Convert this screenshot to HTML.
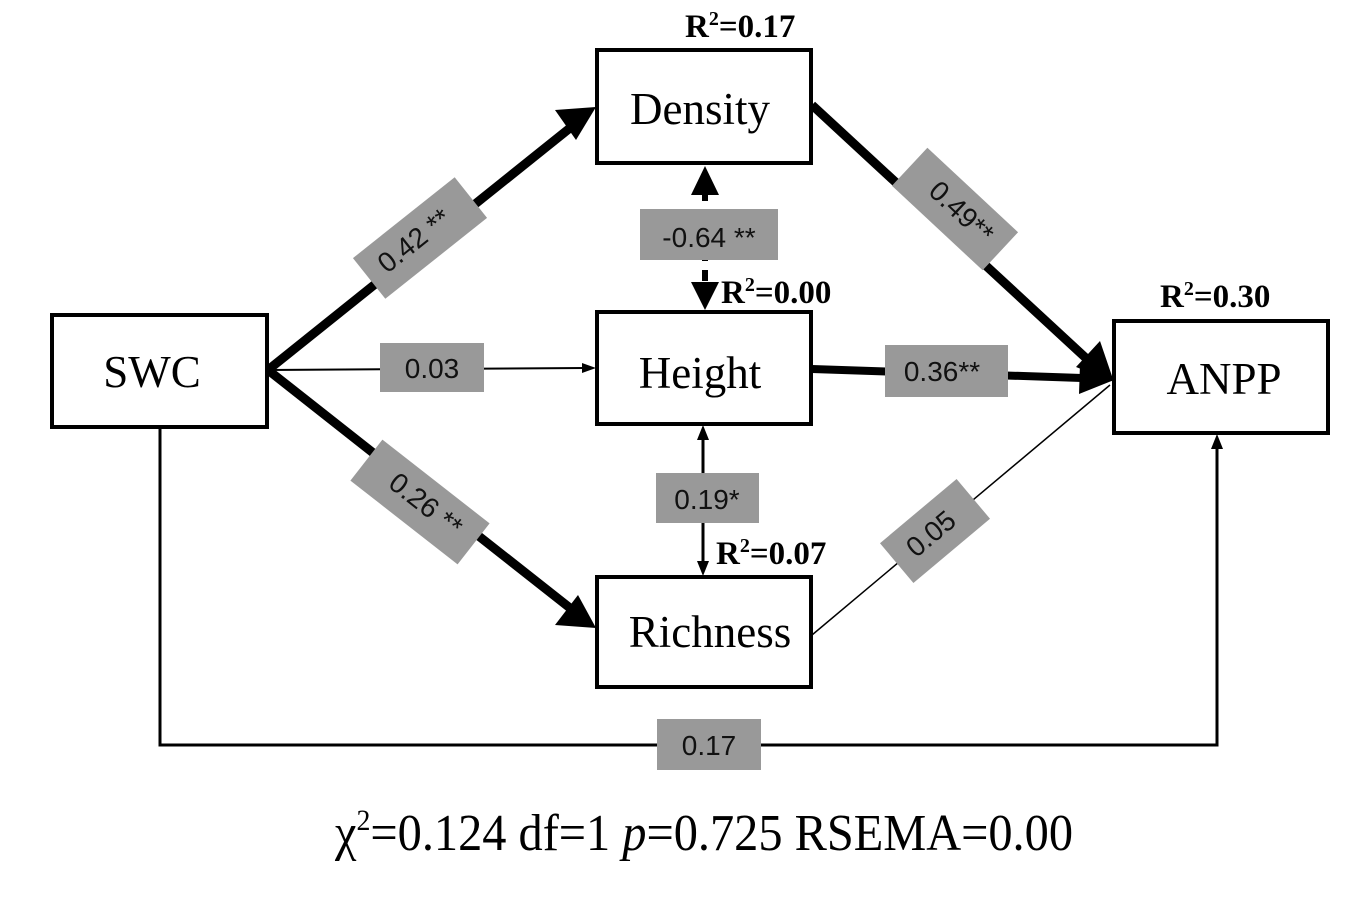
<!DOCTYPE html>
<html><head><meta charset="utf-8"><style>
html,body{margin:0;padding:0;background:#fff;}
svg{display:block;}
.s{font-family:"Liberation Serif",serif;}
.l{font-family:"Liberation Sans",sans-serif;font-size:28px;fill:#111;}
</style></head><body>
<svg width="1346" height="903" viewBox="0 0 1346 903">
<g fill="none" stroke="#000">
  <line x1="268" y1="370" x2="570" y2="128" stroke-width="9"/>
  <line x1="268" y1="370" x2="570" y2="608" stroke-width="9"/>
  <line x1="268" y1="370" x2="585" y2="368" stroke-width="2"/>
  <line x1="812" y1="105" x2="1088" y2="360" stroke-width="9"/>
  <line x1="812" y1="369" x2="1082" y2="378" stroke-width="8"/>
  <line x1="812" y1="635" x2="1110" y2="385" stroke-width="1.5"/>
  <line x1="705" y1="190" x2="705" y2="285" stroke-width="6" stroke-dasharray="11,9"/>
  <line x1="703" y1="436" x2="703" y2="565" stroke-width="3"/>
  <polyline points="160,428 160,745 1217,745 1217,446" stroke-width="3"/>
</g>
<g fill="#000">
  <polygon points="596,107 555,110 576,140"/>
  <polygon points="596,628 555,625 578,595"/>
  <polygon points="596,368 582,363 582,373"/>
  <polygon points="1114,382 1100,341 1076,367"/>
  <polygon points="1114,380 1080,364 1079,394"/>
  <polygon points="705,166 691,195 719,195"/>
  <polygon points="705,310 691,282 719,282"/>
  <polygon points="703,425 697,440 709,440"/>
  <polygon points="703,576 697,561 709,561"/>
  <polygon points="1217,434 1211,449 1223,449"/>
</g>
<g fill="#fff" stroke="#000" stroke-width="4">
  <rect x="52" y="315" width="215" height="112"/>
  <rect x="597" y="50" width="214" height="113"/>
  <rect x="597" y="312" width="214" height="112"/>
  <rect x="597" y="577" width="214" height="110"/>
  <rect x="1114" y="321" width="214" height="112"/>
</g>
<g class="s" font-size="45" text-anchor="middle" fill="#000">
  <text x="152" y="387">SWC</text>
  <text x="700" y="124">Density</text>
  <text x="700" y="388">Height</text>
  <text x="710" y="647">Richness</text>
  <text x="1224" y="394">ANPP</text>
</g>
<g class="s" font-size="33" font-weight="bold" fill="#000">
  <text x="685" y="37">R<tspan font-size="20" dy="-12">2</tspan><tspan dy="12">=0.17</tspan></text>
  <text x="721" y="303">R<tspan font-size="20" dy="-12">2</tspan><tspan dy="12">=0.00</tspan></text>
  <text x="716" y="564">R<tspan font-size="20" dy="-12">2</tspan><tspan dy="12">=0.07</tspan></text>
  <text x="1160" y="307">R<tspan font-size="20" dy="-12">2</tspan><tspan dy="12">=0.30</tspan></text>
</g>
<g fill="#999">
  <rect x="380" y="343" width="104" height="49"/>
  <rect x="885" y="345" width="123" height="52"/>
  <rect x="640" y="209" width="138" height="51"/>
  <rect x="656" y="473" width="103" height="50"/>
  <rect x="657" y="719" width="104" height="51"/>
  <rect x="-65" y="-26" width="130" height="52" transform="translate(420,238) rotate(-38.5)"/>
  <rect x="-68" y="-26" width="136" height="52" transform="translate(420,502) rotate(38)"/>
  <rect x="-62" y="-26" width="124" height="52" transform="translate(955,209) rotate(43)"/>
  <rect x="-50" y="-26" width="100" height="52" transform="translate(935,531) rotate(-40)"/>
</g>
<g class="l" text-anchor="middle">
  <text x="432" y="378">0.03</text>
  <text x="942" y="381">0.36**</text>
  <text x="709" y="247">-0.64 **</text>
  <text x="707" y="509">0.19*</text>
  <text x="709" y="755">0.17</text>
  <text transform="translate(420,248) rotate(-38.5)">0.42 **</text>
  <text transform="translate(420,512) rotate(38)">0.26 **</text>
  <text transform="translate(955,219) rotate(43)">0.49**</text>
  <text transform="translate(937,541) rotate(-40)">0.05</text>
</g>
<text class="s" x="335" y="850" font-size="52" fill="#000" textLength="738" lengthAdjust="spacingAndGlyphs">χ<tspan font-size="30" dy="-20">2</tspan><tspan dy="20">=0.124 df=1  </tspan><tspan font-style="italic">p</tspan>=0.725  RSEMA=0.00</text>
</svg>
</body></html>
